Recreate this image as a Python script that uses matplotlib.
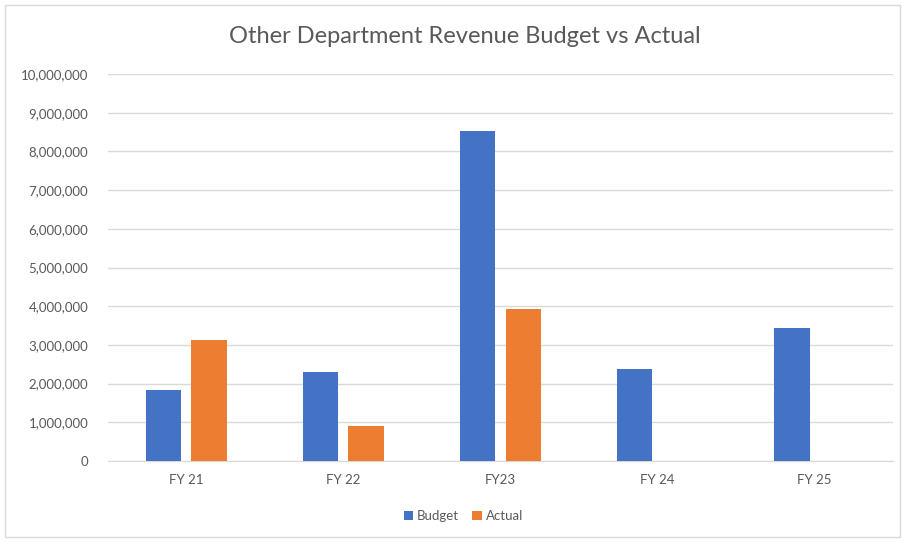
import numpy as np
import matplotlib.pyplot as plt
from matplotlib.patches import Rectangle
from matplotlib.ticker import FuncFormatter

# Revenue figures per fiscal year
years = ['FY 21', 'FY 22', 'FY23', 'FY 24', 'FY 25']
budget = [1830000, 2300000, 8530000, 2370000, 3430000]
actual = [3140000, 900000, 3930000, None, None]

blue = '#4472C4'
orange = '#ED7D31'
grey_text = '#595959'
grid_col = '#D9D9D9'

plt.rcParams['font.family'] = ['Lato', 'DejaVu Sans']

fig = plt.figure(figsize=(9.05, 5.42), dpi=100)
ax = fig.add_axes([0.119, 0.1494, 0.868, 0.714])

x = np.arange(len(years))
w = 0.225
off = 0.145

ax.bar(x - off, budget, width=w, color=blue, label='Budget', zorder=3)
act_x = [xi + off for xi, v in zip(x, actual) if v is not None]
act_v = [v for v in actual if v is not None]
ax.bar(act_x, act_v, width=w, color=orange, label='Actual', zorder=3)

ax.set_xlim(-0.5, len(years) - 0.5)
ax.set_ylim(0, 10000000)
ax.set_yticks(np.arange(0, 10000001, 1000000))
ax.yaxis.set_major_formatter(FuncFormatter(lambda v, p: f'{int(v):,}'))
ax.set_xticks(x)
ax.set_xticklabels(years)

ax.grid(axis='y', color=grid_col, linewidth=1, zorder=0)
for s in ['top', 'right', 'left']:
    ax.spines[s].set_visible(False)
ax.spines['bottom'].set_color(grid_col)
ax.tick_params(axis='both', length=0, colors=grey_text, labelsize=9.5)
ax.tick_params(axis='y', pad=14)
ax.tick_params(axis='x', pad=9)

# title centred on the whole chart area
fig.text(0.514, 0.932, 'Other Department Revenue Budget vs Actual', fontsize=17,
         color=grey_text, ha='center', va='center')

fig.legend(loc='center', bbox_to_anchor=(0.512, 0.048), ncol=2, frameon=False,
           fontsize=9.5, labelcolor=grey_text, handlelength=0.7, handleheight=0.7,
           handletextpad=0.3, columnspacing=1.0)

# chart border
fig.patches.append(Rectangle((5 / 905, 5 / 542), 895 / 905, 532 / 542,
                             transform=fig.transFigure, fill=False,
                             edgecolor='#D9D9D9', linewidth=1))

fig.savefig('out.png', dpi=100)
